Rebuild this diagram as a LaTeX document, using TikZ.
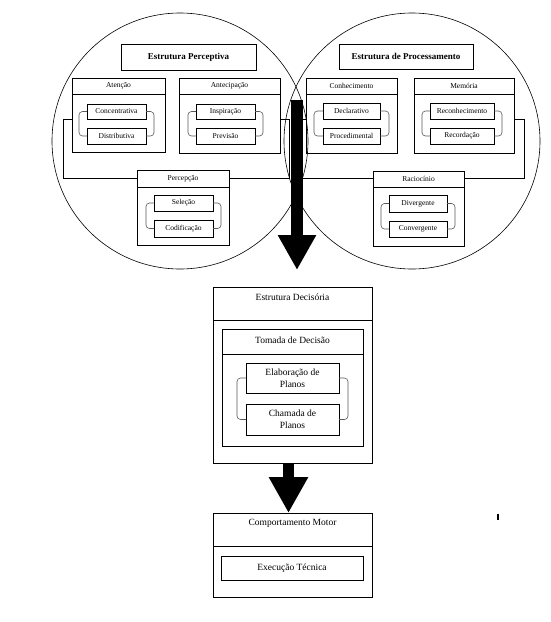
\documentclass[tikz,border=0pt]{standalone}
\usepackage{fontspec}
\setmainfont{Liberation Serif}
\usetikzlibrary{arrows.meta,calc}
\tikzset{
  box/.style={draw, line width=0.6pt, inner sep=0pt, outer sep=0pt, align=center},
  boxline/.style={line width=0.6pt},
  lab/.style={font=\fontsize{7.5}{8.5}\selectfont, inner sep=0pt, align=center},
  biglab/.style={font=\fontsize{9.5}{12}\selectfont, inner sep=0pt, align=center},
  titlelab/.style={font=\bfseries\fontsize{9}{10}\selectfont},
  brk/.style={draw=black!65, rounded corners=3.5pt, line width=0.6pt},
  conn/.style={line width=0.6pt},
  bigarrow/.style={line width=12pt, -{Triangle[width=36pt,length=35pt]}},
}
% #1 name, #2 cx, #3 cy, #4 w, #5 h, #6 header height, #7 label offset, #8 label style, #9 label
\newcommand\grpbox[9]{%
  \node[box, minimum width=#4pt, minimum height=#5pt] (#1) at (#2,#3) {};
  \draw[boxline] ($(#1.north west)+(0,#6)$) -- ($(#1.north east)+(0,#6)$);
  \node[#8] (#1lab) at ($(#1.north)+(0,#7)$) {#9};
}
% bracket pair: #1 top node, #2 bottom node, #3 offset
\newcommand\pairbrk[3]{%
  \draw[brk] (#1.west) -- ++(-#3,0) |- (#2.west);
  \draw[brk] (#1.east) -- ++(#3,0) |- (#2.east);
}
\begin{document}
\begin{tikzpicture}[x=1pt,y=-1pt]
\useasboundingbox (0,0) rectangle (551,622);
\fill[white] (0,0) rectangle (551,622);

% circles
\draw[line width=0.6pt] (180,141) circle[radius=128pt];
\draw[line width=0.6pt] (412,141) circle[radius=128pt];

% ---------- Estrutura Perceptiva ----------
\node[box, titlelab, minimum width=135pt, minimum height=26pt] (ep) at (188.5,57) {Estrutura Perceptiva};

\grpbox{aten}{118.5}{115}{93}{74}{16}{8}{lab}{Atenção}
\node[box, lab, minimum width=59pt, minimum height=15pt] (conc) at (116.5,111.5) {Concentrativa};
\node[box, lab, minimum width=59pt, minimum height=16pt] (dist) at (116.5,136) {Distributiva};
\pairbrk{conc}{dist}{8}

\grpbox{antec}{229.5}{115.5}{101}{75}{16}{8}{lab}{Antecipação}
\node[box, lab, minimum width=59pt, minimum height=15pt] (insp) at (225.5,111.5) {Inspiração};
\node[box, lab, minimum width=59pt, minimum height=16pt] (prev) at (225.5,136) {Previsão};
\pairbrk{insp}{prev}{8}

\grpbox{percep}{183}{207.5}{92}{75}{17}{8.5}{lab}{Percepção}
\node[box, lab, minimum width=59pt, minimum height=16pt] (sele) at (183.5,203) {Seleção};
\node[box, lab, minimum width=59pt, minimum height=17pt] (codi) at (183.5,228.5) {Codificação};
\pairbrk{sele}{codi}{8}

\draw[conn] (aten.west |- conc.south) -- ++(-9,0) |- (percep.west |- perceplab);
\draw[conn] (antec.east |- insp.south) -- ++(9,0) |- (percep.east |- perceplab);

% ---------- Estrutura de Processamento ----------
\node[box, titlelab, minimum width=134pt, minimum height=25pt] (epr) at (406,56.5) {Estrutura de Processamento};

\grpbox{conh}{351.5}{115.5}{91}{75}{16}{8}{lab}{Conhecimento}
\node[box, lab, minimum width=57pt, minimum height=16pt] (decl) at (351.5,111) {Declarativo};
\node[box, lab, minimum width=57pt, minimum height=16pt] (proc) at (351.5,136) {Procedimental};
\pairbrk{decl}{proc}{9}

\grpbox{mem}{464}{115.5}{100}{75}{16}{8}{lab}{Memória}
\node[box, lab, minimum width=64pt, minimum height=16pt] (reco) at (462,111) {Reconhecimento};
\node[box, lab, minimum width=64pt, minimum height=16pt] (reca) at (462,136) {Recordação};
\pairbrk{reco}{reca}{8}

\grpbox{racio}{418.5}{208.5}{91}{75}{16}{7.5}{lab}{Raciocínio}
\node[box, lab, minimum width=58pt, minimum height=17pt] (dive) at (418,203.5) {Divergente};
\node[box, lab, minimum width=58pt, minimum height=16pt] (conv) at (418,229) {Convergente};
\pairbrk{dive}{conv}{8}

\draw[conn] (conh.west |- decl.south) -- ++(-7,0) |- (racio.west |- raciolab);
\draw[conn] (mem.east |- reco.south) -- ++(10,0) |- (racio.east |- raciolab);

% big arrow 1
\coordinate (a1s) at (297,100);
\coordinate (a1e) at (297,270);
\draw[bigarrow] (a1s) -- (a1e);

% ---------- Estrutura Decisória ----------
\grpbox{decis}{292.5}{375}{159}{176}{33}{10.5}{biglab}{Estrutura Decisória}
\grpbox{tomada}{292.5}{387.5}{141}{117}{25}{11.5}{biglab}{Tomada de Decisão}
\node[box, biglab, minimum width=93pt, minimum height=30pt] (elab) at (292.5,378) {Elaboração de\\Planos};
\node[box, biglab, minimum width=93pt, minimum height=31pt] (cham) at (292.5,419.5) {Chamada de\\Planos};
\pairbrk{elab}{cham}{9}

% ---------- Comportamento Motor ----------
\grpbox{motor}{292.5}{555}{159}{84}{33}{10.5}{biglab}{Comportamento Motor}
\node[box, biglab, minimum width=142pt, minimum height=24pt] (exec) at (292,568) {Execução Técnica};

% arrow 2
\draw[line width=11pt, -{Triangle[width=37pt,length=36pt]}] ([xshift=-4pt]decis.south) -- ([xshift=-4pt]motor.north);

% stray tick
\draw[line width=1.5pt] (498,514) -- (498,520);
\end{tikzpicture}
\end{document}
